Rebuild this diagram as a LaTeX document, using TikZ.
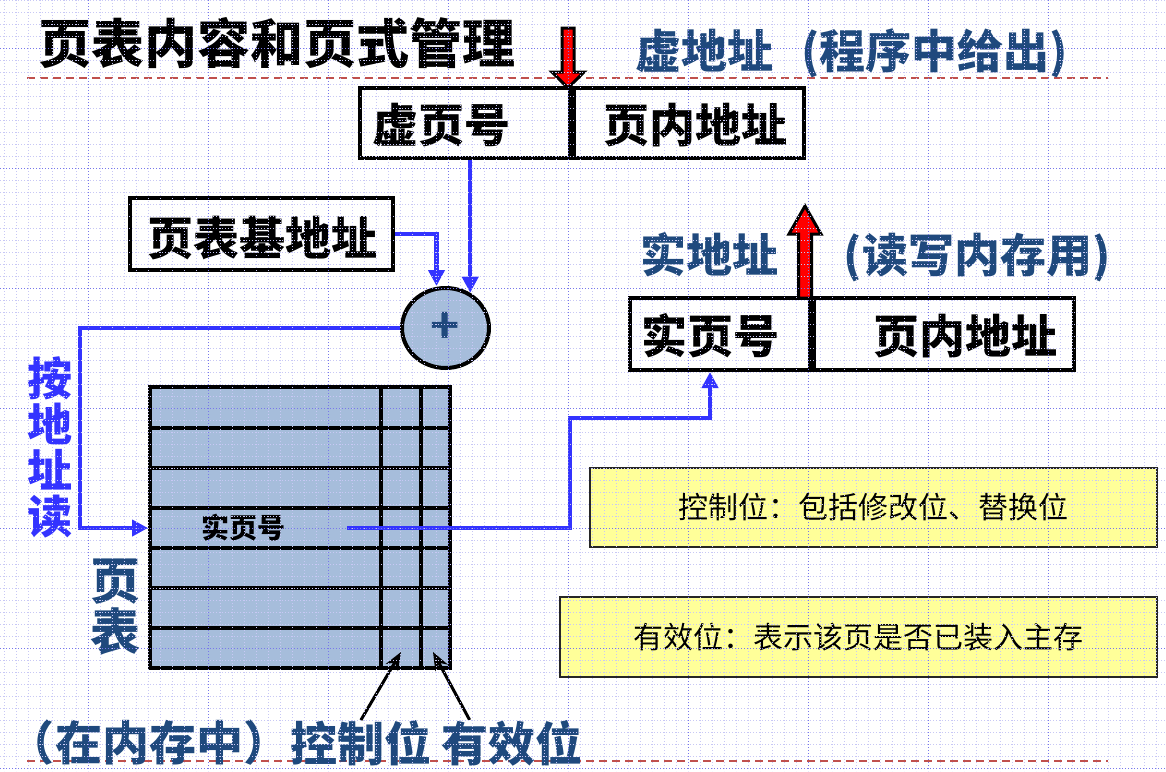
\documentclass[tikz,border=0pt]{standalone}
\usepackage{fontspec}
\newfontfamily\cjk{Noto Sans CJK SC}
\usepackage{tikz}
\usetikzlibrary{arrows.meta,positioning,calc,shapes.geometric}
\usepackage{xcolor}
\definecolor{gridfine}{RGB}{200,200,245}
\definecolor{gridmajor}{RGB}{120,120,235}
\definecolor{sepred}{RGB}{192,80,77}
\definecolor{darkblue}{RGB}{31,73,125}
\definecolor{linkblue}{RGB}{51,51,255}
\definecolor{tabfill}{RGB}{166,189,219}
\definecolor{noteyellow}{RGB}{255,255,153}

\begin{document}
\begin{tikzpicture}[x=1pt,y=-1pt,
  finegrid/.style={draw=gridfine, line width=1pt, dash pattern=on 1pt off 2pt},
  majorgrid/.style={draw=gridmajor, line width=1pt, dash pattern=on 1pt off 2pt},
  sepline/.style={draw=sepred, line width=2.5pt, dash pattern=on 8pt off 5pt},
  cell/.style={draw, rectangle, line width=4pt, inner sep=0pt},
  bigtxt/.style={font=\cjk\bfseries\fontsize{46}{46}\selectfont, inner sep=0pt},
  bluetxt/.style={bigtxt, text=darkblue},
  link/.style={draw=linkblue, line width=4.5pt, -{Triangle[length=16pt,width=16pt]}},
  ptr/.style={draw=black, line width=3pt, -{Stealth[length=18pt,width=14pt]}},
  note/.style={draw=black!85, line width=2pt, fill=noteyellow, inner sep=0pt,
    font=\cjk\fontsize{30}{30}\selectfont},
  blockarrow/.style={fill=red, draw=black, line width=3pt, line join=miter}]

  \useasboundingbox (0,0) rectangle (1166,771);
  \fill[white] (0,0) rectangle (1166,771);

  % dashed rules
  \draw[sepline] (27,78) -- (1108,78);
  \draw[sepline] (27,761) -- (1108,761);

  % titles
  \node[font=\cjk\bfseries\fontsize{53}{53}\selectfont, inner sep=0pt] (title) at (277,43) {页表内容和页式管理};
  \node[bluetxt] (virtt) at (852,53) {虚地址\hspace{28pt}(程序中给出)};

  % virtual address
  \node[cell, minimum width=210, minimum height=70] (vpn) at (465,123) {};
  \node[cell, minimum width=230, minimum height=70, right=0pt of vpn] (voff) {};
  \node[bigtxt] (vpnt) at (441,125) {虚页号};
  \node[bigtxt] (vofft) at (695,125) {页内地址};
  \filldraw[blockarrow] (562,28) -- (574,28) -- (574,72) -- (584,72) -- (568,88)
    -- (552,72) -- (562,72) -- cycle;

  % base register and adder
  \node[cell, minimum width=263, minimum height=72] (base) at (261.5,234) {};
  \node[bigtxt] (baset) at (262,238) {页表基地址};
  \node[ellipse, draw, line width=4pt, fill=tabfill, minimum width=87, minimum height=80,
    inner sep=0pt] (adder) at (445.5,328) {};
  \node[font=\cjk\bfseries\fontsize{48}{48}\selectfont, text=darkblue, inner sep=0pt] (plus) at (adder) {+};

  % real address
  \node[cell, minimum width=180, minimum height=72] (rpn) at (720,334) {};
  \node[cell, minimum width=260, minimum height=72, right=0pt of rpn] (roff) {};
  \node[bigtxt] (rpnt) at (710,336) {实页号};
  \node[bigtxt] (rofft) at (965,336) {页内地址};
  \node[bluetxt] (realt) at (709,255) {实地址};
  \node[bluetxt] (rwt) at (977,258) {(读写内存用)};
  \filldraw[blockarrow] (798.5,298) -- (811.5,298) -- (811.5,234) -- (821,234) -- (805,206)
    -- (789,234) -- (798.5,234) -- cycle;

  % page table
  \node[draw, line width=4pt, fill=tabfill, minimum width=300, minimum height=281,
    inner sep=0pt] (ptab) at (300,527.5) {};
  \foreach \ry in {428,468,508,548,588,628}
    \draw[line width=3.5pt] (ptab.west |- 0,\ry) -- (ptab.east |- 0,\ry);
  \foreach \cx in {381,421}
    \draw[line width=3.5pt] (\cx,0 |- ptab.north) -- (\cx,0 |- ptab.south);
  \node[font=\cjk\bfseries\fontsize{28}{28}\selectfont, inner sep=0pt] (pte) at (243,528) {实页号};

  % side and bottom labels
  \node[font=\cjk\bfseries\fontsize{45}{46}\selectfont, text=linkblue, align=center,
    inner sep=0pt] (readt) at (50,447) {按\\地\\址\\读};
  \node[font=\cjk\bfseries\fontsize{50}{51}\selectfont, text=darkblue, align=center,
    inner sep=0pt] (tabt) at (115,607) {页\\表};
  \node[font=\cjk\bfseries\fontsize{47}{47}\selectfont, text=darkblue, inner sep=0pt] (memt) at (149,743) {（在内存中）};
  \node[font=\cjk\bfseries\fontsize{47}{47}\selectfont, text=darkblue, inner sep=0pt, right=0pt of memt] (ctrlt) {控制位};
  \node[font=\cjk\bfseries\fontsize{47}{47}\selectfont, text=darkblue, inner sep=0pt, right=10pt of ctrlt] (validt) {有效位};

  % notes
  \node[note, minimum width=567, minimum height=79] (ctrlnote) at (873.5,507.5) {控制位：包括修改位、替换位};
  \node[note, minimum width=597, minimum height=80] (validnote) at (858.5,637) {有效位：表示该页是否已装入主存};

  % connectors
  \coordinate (rdx) at (80,0);
  \coordinate (bend) at (570,418);
  \coordinate (cbit) at (401,652);
  \coordinate (vbit) at (433,652);
  \draw[link] (vpn.south -| adder.55) -- (adder.55);
  \draw[link] (base.east) -| ([xshift=-9pt]adder.north);
  \draw[link] (adder.west) -| (rdx |- pte) -- (ptab.west |- pte);
  \draw[link] ([xshift=62pt]pte.east) -| (bend) -| (rpnt |- rpn.south);
  \draw[ptr] (ctrlt.north) -- (cbit);
  \draw[ptr] ([xshift=28pt]validt.north west) -- (vbit);

  % grid on top
  \foreach \gx in {4,16,...,1166}
    \draw[finegrid] (\gx,0) -- (\gx,771);
  \foreach \gy in {0,12,...,771}
    \draw[finegrid] (0,\gy) -- (1166,\gy);
  \foreach \gx in {88,208,...,1048}
    \draw[majorgrid] (\gx,0) -- (\gx,771);
  \foreach \gy in {48,168,...,768}
    \draw[majorgrid] (0,\gy) -- (1166,\gy);
\end{tikzpicture}
\end{document}
